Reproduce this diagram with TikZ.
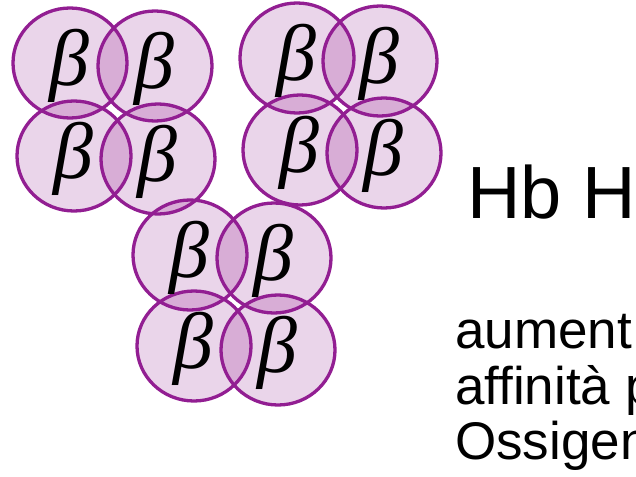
\documentclass[tikz,border=0pt]{standalone}
\usepackage{fontspec}
\setmainfont{Liberation Sans}
\newfontfamily\betafont{Liberation Serif}
\definecolor{cfillc}{RGB}{234,213,234}
\definecolor{lensc}{RGB}{216,173,214}
\definecolor{clinec}{RGB}{146,30,146}
\begin{document}
\begin{tikzpicture}[x=1pt,y=-1pt,
  cfill/.style={fill=cfillc},
  lensfill/.style={fill=lensc},
  cline/.style={draw=clinec,line width=3.3pt},
  bnode/.style={inner sep=0pt,font=\betafont\itshape\fontsize{80}{84}\selectfont},
  bigtext/.style={anchor=base west,inner sep=0pt,font=\fontsize{74}{78}\selectfont},
  smalltext/.style={anchor=base west,inner sep=0pt,font=\fontsize{53}{57}\selectfont}]
\useasboundingbox (0,0) rectangle (636,476);
\clip (0,0) rectangle (636,476);
\def\cl{70/63,155/66,74/156,158/159,297/58,380/61,300/150,384/153,190/255,274/258,194/346,278/350}
\foreach \x/\y in \cl {
  \fill[cfill] (\x,\y) ellipse [x radius=57, y radius=55];
}
\foreach \xa/\ya [count=\i] in \cl {
  \foreach \xb/\yb [count=\j] in \cl {
    \ifnum\j>\i
      \begin{scope}
        \clip (\xa,\ya) ellipse [x radius=57, y radius=55];
        \fill[lensfill] (\xb,\yb) ellipse [x radius=57, y radius=55];
      \end{scope}
    \fi
  }
}
\foreach \x/\y in \cl {
  \draw[cline] (\x,\y) ellipse [x radius=57, y radius=55];
}
\foreach \x/\y [count=\i] in \cl {
  \node[bnode] (b\i) at ({\x-1},{\y+3}) {β};
}
\node[bigtext] (hb) at (467,218) {Hb H};
\node[smalltext] (l1) at (455,348) {aument};
\node[smalltext] (l2) at (455,404) {affinità p};
\node[smalltext] (l3) at (455,459) {Ossigen};
\end{tikzpicture}
\end{document}
